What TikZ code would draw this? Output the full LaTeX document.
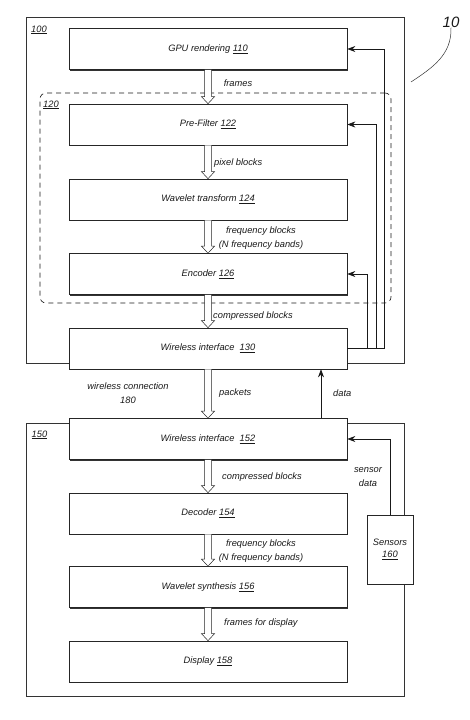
\documentclass[tikz,border=0pt]{standalone}
\usepackage{fontspec}
\setmainfont{Liberation Sans}
\usetikzlibrary{arrows.meta,calc,shadows}
\newcommand\hollowarr[2]{\draw[harrow] let \p1=(#1.south), \p2=(#2.north) in
 ({\x1-3.5pt},\y1) -- ({\x1-3.5pt},{\y2+7pt}) -- ({\x1-6.5pt},{\y2+7pt}) -- (\x1,\y2) -- ({\x1+6.5pt},{\y2+7pt}) -- ({\x1+3.5pt},{\y2+7pt}) -- ({\x1+3.5pt},\y1);}
\begin{document}
\begin{tikzpicture}[x=1pt,y=-1pt,
  every node/.style={font=\fontsize{9.3}{11}\selectfont\itshape, inner sep=0pt, text=black!90},
  blk/.style={draw=black!85, line width=0.65pt, fill=white, minimum width=278pt, minimum height=41pt,
    drop shadow={shadow xshift=1.1pt, shadow yshift=-1.1pt, fill=black!80, opacity=1}},
  outer/.style={draw=black!80, line width=0.6pt},
  grpbox/.style={draw=black!90, line width=0.65pt, dash pattern=on 5pt off 4pt, rounded corners=6pt},
  harrow/.style={draw=black!85, line width=0.5pt, fill=white},
  fb/.style={draw=black!90, line width=0.65pt, -{Stealth[length=8pt,width=6pt]}},
  lbl/.style={align=center}
]
\useasboundingbox (0,0) rectangle (469,720);
% containers
\node[outer, minimum width=378pt, minimum height=346pt] (b100) at (215,190) {};
\node[outer, minimum width=378pt, minimum height=273pt] (b150) at (215,559.5) {};
\node[grpbox, minimum width=351pt, minimum height=210pt] (grp) at (215.5,198) {};
\node (l100) at (39,30) {\underline{100}};
\node (l150) at (39.5,435) {\underline{150}};
\node (l120) at (51,105) {\underline{120}};
% blocks
\node[blk] (gpu) at (208,49) {GPU rendering \underline{110}};
\node[blk] (pre) at (208,124.5) {Pre-Filter \underline{122}};
\node[blk] (wt)  at (208,199.5) {Wavelet transform \underline{124}};
\node[blk] (enc) at (208,274) {Encoder \underline{126}};
\node[blk] (w130) at (208,348.5) {Wireless interface\ \ \underline{130}};
\node[blk] (w152) at (208,439) {Wireless interface\ \ \underline{152}};
\node[blk] (dec) at (208,513.5) {Decoder \underline{154}};
\node[blk] (syn) at (208,587) {Wavelet synthesis \underline{156}};
\node[blk] (disp) at (208,661.5) {Display \underline{158}};
\node[blk, minimum width=46pt, minimum height=69pt, lbl] (sens) at (390,549.5) {Sensors\\[1pt]\underline{160}};
% hollow data arrows
\hollowarr{gpu}{pre}
\hollowarr{pre}{wt}
\hollowarr{wt}{enc}
\hollowarr{enc}{w130}
\hollowarr{w130}{w152}
\hollowarr{w152}{dec}
\hollowarr{dec}{syn}
\hollowarr{syn}{disp}
% feedback connectors
\draw[fb] (w130.east) -- ++(37,0) |- (gpu.east);
\draw[fb] (w130.east) -- ++(29,0) |- (pre.east);
\draw[fb] (w130.east) -- ++(20,0) |- (enc.east);
\draw[fb] ($(w152.north)+(113,0)$) -- ($(w130.south)+(113,0)$);
\draw[fb] (sens.north) |- (w152.east);
% labels
\node (t1) at (238,83) {frames};
\node[anchor=west] (t2) at (214,163) {pixel blocks};
\node[lbl] (t3) at (261,238) {frequency blocks\\[2.5pt](N frequency bands)};
\node[anchor=west] (t4) at (213,316) {compressed blocks};
\node[lbl] (t5) at (128,393) {wireless connection\\[2.5pt]180};
\node[anchor=west] (t6) at (219,393) {packets};
\node[anchor=west] (t7) at (333,393) {data};
\node[anchor=west] (t8) at (222,477) {compressed blocks};
\node[lbl] (t9) at (368,477) {sensor\\[2.5pt]data};
\node[lbl] (t10) at (261,551) {frequency blocks\\[2.5pt](N frequency bands)};
\node[anchor=west] (t11) at (224,623) {frames for display};
% reference numeral
\node[font=\fontsize{15}{15}\selectfont\itshape] (ref) at (451,22) {10};
\coordinate (lead) at (411,82);
\draw[black!80, line width=0.5pt] (lead) .. controls (432,68) and (452,55) .. (ref.south);
\end{tikzpicture}
\end{document}
